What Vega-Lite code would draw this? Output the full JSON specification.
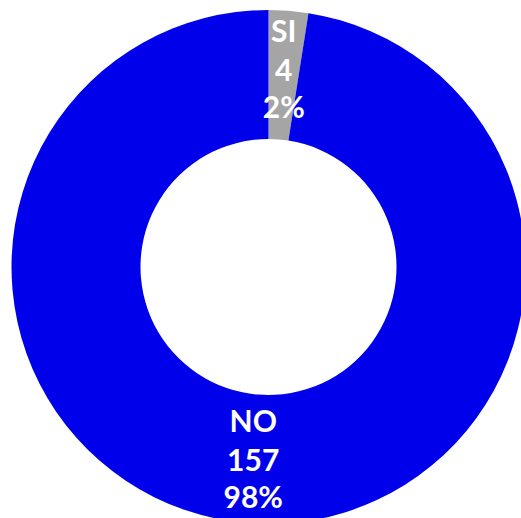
{
  "$schema": "https://vega.github.io/schema/vega-lite/v6.json",
  "width": 514,
  "height": 514,
  "padding": {"left": 11.5, "top": 10, "right": 0, "bottom": 0},
  "background": "white",
  "config": {"view": {"stroke": null}},
  "data": {"values": [
    {"cat": "SI", "n": 4, "pct": "2%"},
    {"cat": "NO", "n": 157, "pct": "98%"}
  ]},
  "encoding": {
    "theta": {"field": "n", "type": "quantitative", "stack": true},
    "order": {"field": "cat", "sort": "descending"}
  },
  "layer": [
    {
      "mark": {"type": "arc", "innerRadius": 128},
      "encoding": {
        "color": {"field": "cat", "type": "nominal", "scale": {"domain": ["SI", "NO"], "range": ["#A5A5A5", "#0000EB"]}, "legend": null}
      }
    },
    {
      "mark": {"type": "text", "radius": 196, "dy": -39, "font": "Lato", "fontWeight": "bold", "fontSize": 30, "color": "white"},
      "encoding": {"text": {"field": "cat", "type": "nominal"}}
    },
    {
      "mark": {"type": "text", "radius": 196, "dy": 0, "font": "Lato", "fontWeight": "bold", "fontSize": 30, "color": "white"},
      "encoding": {"text": {"field": "n", "type": "quantitative"}}
    },
    {
      "mark": {"type": "text", "radius": 196, "dy": 37, "font": "Lato", "fontWeight": "bold", "fontSize": 30, "color": "white"},
      "encoding": {"text": {"field": "pct", "type": "nominal"}}
    }
  ]
}
